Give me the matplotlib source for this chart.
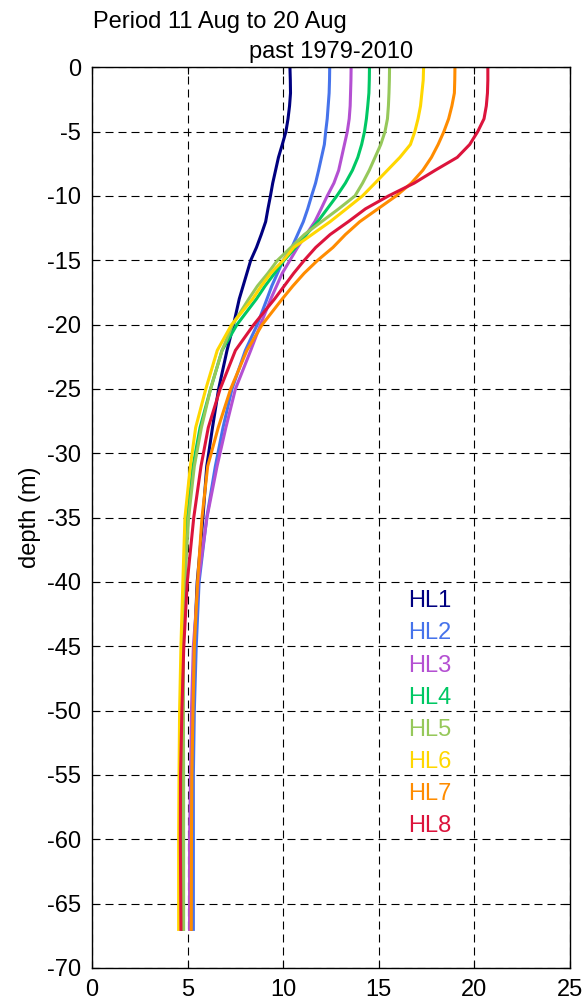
import matplotlib.pyplot as plt

plt.rcParams['font.family'] = ['Liberation Sans', 'DejaVu Sans']
plt.rcParams['axes.unicode_minus'] = False

# depth levels (m)
depth = [0, -1, -2, -3, -4, -5, -6, -7, -8, -9, -10, -11, -12, -13, -14,
         -15, -16, -17, -18, -20, -22, -25, -28, -31, -35, -40, -45, -50,
         -55, -60, -67]

# temperature profiles per station
hl1 = [10.35, 10.37, 10.38, 10.33, 10.25, 10.14, 9.95, 9.75, 9.6, 9.45,
       9.33, 9.2, 9.08, 8.85, 8.6, 8.3, 8.1, 7.9, 7.7, 7.4,
       7.06, 6.62, 6.3, 6.0, 5.8, 5.5, 5.35, 5.25, 5.2, 5.2, 5.2]
hl2 = [12.43, 12.42, 12.4, 12.35, 12.3, 12.22, 12.15, 12.0, 11.85, 11.69,
       11.48, 11.28, 11.05, 10.75, 10.45, 10.0, 9.7, 9.4, 9.15, 8.64,
       8.02, 7.32, 6.85, 6.45, 6.0, 5.6, 5.45, 5.35, 5.3, 5.3, 5.3]
hl3 = [13.55, 13.54, 13.52, 13.5, 13.45, 13.35, 13.2, 13.05, 12.9, 12.65,
       12.3, 11.98, 11.65, 11.2, 10.75, 10.35, 9.95, 9.65, 9.35, 8.81,
       8.3, 7.5, 7.0, 6.54, 6.01, 5.55, 5.3, 5.2, 5.15, 5.1, 5.1]
hl4 = [14.51, 14.5, 14.48, 14.42, 14.35, 14.25, 14.1, 13.9, 13.62, 13.25,
       12.8, 12.3, 11.8, 11.2, 10.65, 10.05, 9.55, 9.05, 8.6, 7.58,
       6.8, 6.2, 5.65, 5.28, 4.98, 4.85, 4.75, 4.72, 4.7, 4.7, 4.7]
hl5 = [15.56, 15.55, 15.53, 15.5, 15.45, 15.32, 15.1, 14.8, 14.5, 14.15,
       13.75, 12.9, 12.0, 11.1, 10.4, 9.7, 9.2, 8.65, 8.2, 7.35,
       6.8, 6.2, 5.72, 5.35, 5.05, 4.85, 4.78, 4.78, 4.79, 4.79, 4.79]
hl6 = [17.34, 17.32, 17.25, 17.18, 17.05, 16.88, 16.65, 16.1, 15.45, 14.8,
       14.14, 13.3, 12.45, 11.5, 10.55, 10.0, 9.35, 8.85, 8.4, 7.3,
       6.55, 5.95, 5.42, 5.14, 4.86, 4.75, 4.65, 4.58, 4.55, 4.53, 4.53]
hl7 = [18.98, 18.97, 18.95, 18.82, 18.65, 18.4, 18.1, 17.75, 17.3, 16.7,
       15.9, 14.95, 14.0, 13.25, 12.6, 11.8, 11.1, 10.5, 9.95, 8.9,
       8.1, 7.25, 6.6, 6.05, 5.75, 5.52, 5.35, 5.28, 5.22, 5.2, 5.19]
hl8 = [20.7, 20.7, 20.68, 20.62, 20.5, 20.17, 19.75, 19.1, 17.95, 16.85,
       15.5, 14.3, 13.4, 12.45, 11.7, 11.1, 10.55, 10.05, 9.55, 8.46,
       7.5, 6.7, 6.08, 5.7, 5.32, 4.98, 4.8, 4.7, 4.63, 4.62, 4.65]

profiles = [hl1, hl2, hl3, hl4, hl5, hl6, hl7, hl8]
names = ['HL1', 'HL2', 'HL3', 'HL4', 'HL5', 'HL6', 'HL7', 'HL8']
colors = ['#000080', '#4673EB', '#B450D2', '#00C864', '#96C85A',
          '#FFD700', '#FF8C00', '#DC143C']

fig = plt.figure(figsize=(5.88, 10.06), dpi=100)
ax = fig.add_axes([0.1565, 0.0378, 0.813, 0.8953])

for temp, col in zip(profiles, colors):
    ax.plot(temp, depth, color=col, linewidth=2.2)

# station labels as coloured text
for i, (nm, col) in enumerate(zip(names, colors)):
    ax.text(16.55, -41.5 - 2.5 * i, nm, color=col, fontsize=17,
            ha='left', va='center')

ax.set_xlim(0, 25)
ax.set_ylim(-70, 0)
ax.set_xticks(range(0, 26, 5))
ax.set_yticks(range(-70, 1, 5))
ax.tick_params(direction='in', length=5, labelsize=17, top=True, right=True,
               pad=8)
ax.grid(True, linestyle=(0, (7.2, 4.5)), color='black', linewidth=0.8)
for s in ax.spines.values():
    s.set_linewidth(1.0)
ax.set_ylabel('depth (m)', fontsize=17, labelpad=4)

fig.text(0.158, 0.972, 'Period 11 Aug to 20 Aug', fontsize=17,
         ha='left', va='baseline')
fig.text(0.563, 0.942, 'past 1979-2010', fontsize=17,
         ha='center', va='baseline')

fig.savefig('out.png', dpi=100)
